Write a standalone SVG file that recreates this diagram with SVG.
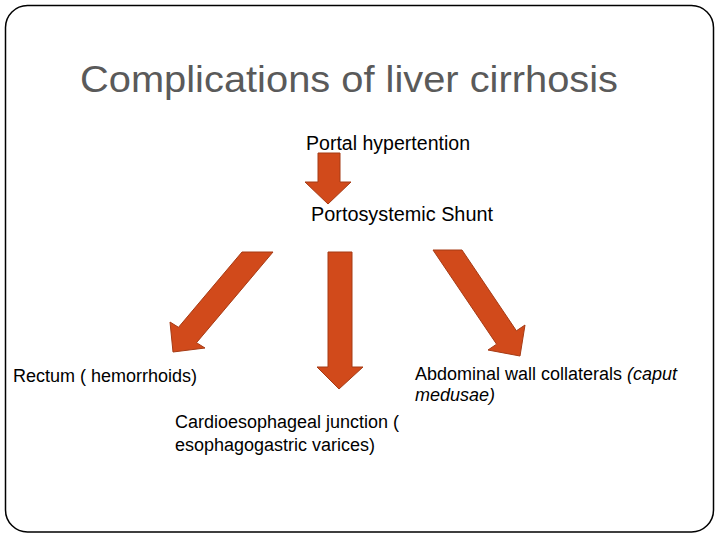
<svg xmlns="http://www.w3.org/2000/svg" width="720" height="540" viewBox="0 0 720 540">
<style>
.t{font-family:"Liberation Sans",Arial,sans-serif;fill:#000}
.arrow{fill:#D14A1B;stroke:#A63B15;stroke-width:1}
</style>
<rect x="0" y="0" width="720" height="540" fill="#fff"/>
<rect x="5.5" y="5.5" width="708" height="526.5" rx="22" ry="22" fill="none" stroke="#000" stroke-width="1.5"/>
<text x="80" y="92" font-family="Liberation Sans,Arial,sans-serif" font-size="36" fill="#5a5a5a" textLength="538" lengthAdjust="spacingAndGlyphs">Complications of liver cirrhosis</text>
<g id="portal"><text class="t" x="306" y="150" font-size="20" textLength="164" lengthAdjust="spacingAndGlyphs">Portal hypertention</text></g>
<g id="shunt"><text class="t" x="311" y="221" font-size="20" textLength="182" lengthAdjust="spacingAndGlyphs">Portosystemic Shunt</text></g>
<g id="rectum"><text class="t" x="13" y="382" font-size="18" textLength="184" lengthAdjust="spacingAndGlyphs">Rectum ( hemorrhoids)</text></g>
<g id="cardio"><text class="t" x="175" y="428" font-size="18" textLength="224" lengthAdjust="spacingAndGlyphs">Cardioesophageal junction (</text><text class="t" x="175" y="451" font-size="18" textLength="200" lengthAdjust="spacingAndGlyphs">esophagogastric varices)</text></g>
<g id="abdominal"><text class="t" x="415" y="380" font-size="18" textLength="262" lengthAdjust="spacingAndGlyphs">Abdominal wall collaterals <tspan font-style="italic">(caput</tspan></text><text class="t" x="415" y="401" font-size="18" font-style="italic" textLength="80" lengthAdjust="spacingAndGlyphs">medusae)</text></g>
<g id="connectors">
<polygon class="arrow" points="318,153 340,153 340,182 351,182 328,204 305,182 318,182"/>
<polygon class="arrow" points="328,252 352,252 352,367 363,367 339,389 317,367 328,367"/>
<polygon class="arrow" points="242,252 273,252 196.5,342.7 205,348 173,352 170,322 178.5,327.3"/>
<polygon class="arrow" points="433,250 462,250 516.4,330.8 525,325 520,356 488,350 496.6,344.2"/>
</g>
</svg>
